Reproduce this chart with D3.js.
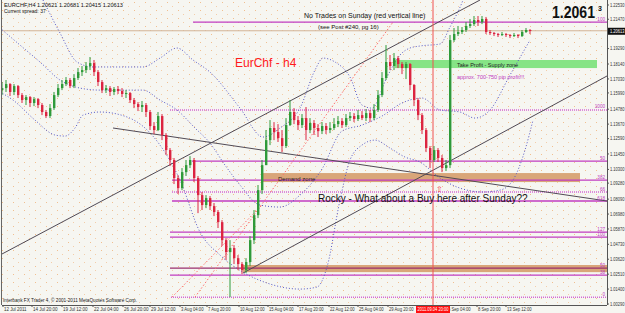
<!DOCTYPE html>
<html>
<head>
<meta charset="utf-8">
<script src="https://cdn.jsdelivr.net/npm/d3@7"></script>
<style>
html, body { margin: 0; padding: 0; background: #fff; }
svg { display: block; font-family: "Liberation Sans", Arial, sans-serif; }
</style>
</head>
<body>
<div id="chart"></div>
<script>
const width = 625, height = 313, plotRight = 607, plotBottom = 305;

// EURCHF H4 candles (one entry per bar, open = previous close)
const firstOpen = 1.1620;
const closes = [1.1635,1.1665,1.1606,1.1650,1.1583,1.1546,1.1568,1.1524,1.1553,1.1509,
  1.1457,1.1427,1.1486,1.1583,1.1635,1.1665,1.1695,1.1650,1.1710,1.1754,
  1.1769,1.1799,1.1821,1.1754,1.1680,1.1620,1.1635,1.1606,1.1628,1.1613,
  1.1591,1.1598,1.1546,1.1516,1.1494,1.1509,1.1457,1.1353,1.1323,1.1427,
  1.1286,1.1174,1.1100,1.0966,1.0891,1.1010,1.1062,1.1100,1.0966,1.0839,
  1.0765,1.0817,1.0757,1.0713,1.0638,1.0504,1.0415,1.0445,1.0370,1.0326,
  1.0281,1.0341,1.0504,1.0690,1.0876,1.1062,1.1248,1.1338,1.1308,1.1263,
  1.1204,1.1360,1.1457,1.1397,1.1360,1.1412,1.1323,1.1375,1.1338,1.1315,
  1.1353,1.1323,1.1338,1.1367,1.1390,1.1360,1.1412,1.1427,1.1405,1.1434,
  1.1412,1.1449,1.1412,1.1472,1.1583,1.1710,1.1829,1.1799,1.1858,1.1814,
  1.1784,1.1814,1.1658,1.1546,1.1434,1.1323,1.1189,1.1100,1.1174,1.1115,
  1.1040,1.1062,1.1992,1.2037,1.2052,1.2067,1.2097,1.2111,1.2141,1.2126,
  1.2149,1.2052,1.2045,1.2037,1.2030,1.2037,1.2030,1.2022,1.2030,1.2022,
  1.2052,1.2067,1.2061];
const highs = [1.1680,1.1695,1.1672,1.1665,1.1658,1.1598,1.1583,1.1576,1.1568,1.1561,
  1.1524,1.1472,1.1516,1.1606,1.1665,1.1695,1.1717,1.1710,1.1739,1.1784,
  1.1799,1.1829,1.1866,1.1844,1.1769,1.1695,1.1658,1.1650,1.1643,1.1650,
  1.1635,1.1620,1.1606,1.1561,1.1531,1.1539,1.1524,1.1472,1.1382,1.1457,
  1.1442,1.1300,1.1189,1.1115,1.0988,1.1040,1.1100,1.1129,1.1115,1.0981,
  1.0862,1.0839,1.0832,1.0780,1.0728,1.0653,1.0519,1.0504,1.0467,1.0393,
  1.0341,1.0370,1.0534,1.0728,1.0914,1.1100,1.1323,1.1397,1.1382,1.1367,
  1.1323,1.1412,1.1546,1.1486,1.1427,1.1442,1.1494,1.1412,1.1397,1.1367,
  1.1382,1.1375,1.1382,1.1412,1.1427,1.1412,1.1442,1.1457,1.1449,1.1472,
  1.1464,1.1479,1.1472,1.1516,1.1620,1.1754,1.1955,1.1881,1.1896,1.1873,
  1.1829,1.1829,1.1821,1.1665,1.1561,1.1449,1.1338,1.1204,1.1204,1.1189,
  1.1137,1.1100,1.2030,1.2082,1.2097,1.2089,1.2126,1.2149,1.2171,1.2171,
  1.2171,1.2164,1.2067,1.2052,1.2045,1.2052,1.2045,1.2037,1.2045,1.2037,
  1.2067,1.2082,1.2074];
const lows = [1.1583,1.1606,1.1576,1.1583,1.1561,1.1524,1.1509,1.1494,1.1501,1.1486,
  1.1434,1.1412,1.1412,1.1472,1.1568,1.1620,1.1650,1.1635,1.1635,1.1695,
  1.1725,1.1747,1.1769,1.1725,1.1650,1.1598,1.1598,1.1576,1.1583,1.1591,
  1.1568,1.1561,1.1524,1.1486,1.1464,1.1457,1.1420,1.1323,1.1293,1.1315,
  1.1248,1.1137,1.1055,1.0921,1.0847,1.0876,1.0981,1.1040,1.0936,1.0705,
  1.0728,1.0742,1.0728,1.0683,1.0594,1.0460,1.0356,1.0080,1.0326,1.0281,
  1.0251,1.0259,1.0311,1.0475,1.0668,1.0847,1.1144,1.1211,1.1248,1.1234,
  1.1159,1.1189,1.1353,1.1367,1.1323,1.1338,1.1248,1.1300,1.1286,1.1271,
  1.1293,1.1293,1.1300,1.1323,1.1345,1.1338,1.1345,1.1390,1.1382,1.1390,
  1.1397,1.1390,1.1382,1.1397,1.1457,1.1568,1.1695,1.1769,1.1769,1.1784,
  1.1739,1.1702,1.1620,1.1501,1.1397,1.1293,1.1159,1.1040,1.1085,1.1085,
  1.1010,1.1018,1.1040,1.1978,1.2022,1.2037,1.2052,1.2082,1.2097,1.2097,
  1.2111,1.2037,1.2030,1.2022,1.2015,1.2022,1.2015,1.2007,1.2015,1.2007,
  1.2015,1.2045,1.2037];

// Bollinger bands, [bar index, price]
const bandUpper = [[10.25,1.2290],[14.5,1.2045],[18.75,1.1829],[22.75,1.1792],[35.25,1.1792],
  [39.5,1.1858],[43.75,1.1933],[47.75,1.1844],[52,1.1754],[59.5,1.1486],[65.25,1.1271],
  [69.5,1.1338],[74.5,1.1486],[78.25,1.1769],[80.25,1.1858],[83.25,1.1829],[87,1.1717],
  [90,1.1509],[92.5,1.1486],[96.25,1.1717],[99.5,1.1881],[102,1.1933],[104.5,1.1948],
  [109.5,1.1963],[112,1.2089],[115.25,1.2290],[117,1.2439]];
const bandMiddle = [[-0.5,1.2082],[4.5,1.1955],[9.5,1.1829],[14.5,1.1695],[19.5,1.1635],
  [24.5,1.1620],[35.25,1.1620],[39.5,1.1546],[43.75,1.1472],[48.25,1.1338],[52,1.1226],
  [55.75,1.1062],[59.5,1.0914],[64.5,1.0765],[69.5,1.0750],[74.5,1.0839],[80,1.1033],
  [85,1.1315],[90,1.1360],[95,1.1427],[100,1.1524],[105,1.1561],[109.5,1.1472],
  [114.5,1.1457],[118.25,1.1412],[122,1.1472],[127,1.1732],[132,1.1992]];
const bandLower = [[-0.5,1.1606],[2.75,1.1546],[8.25,1.1397],[13.25,1.1286],[15.75,1.1278],
  [18.25,1.1338],[20.25,1.1434],[24.5,1.1457],[31.25,1.1420],[35.75,1.1338],[39.5,1.1211],
  [44.5,1.0951],[49.5,1.0564],[54.5,1.0393],[60.25,1.0266],[66.25,1.0185],[74.5,1.0140],
  [78.75,1.0155],[81.25,1.0304],[84.5,1.0802],[87,1.1100],[90,1.1211],[93.25,1.1248],
  [97,1.1189],[100.75,1.1122],[104.5,1.1085],[109.5,1.0966],[114.5,1.0891],[120.25,1.0862],
  [124.5,1.0876],[127.75,1.0951],[130.75,1.1174],[132.75,1.1397]];

// trend lines and fibo diagonals, [bar index, price]
const trendLines = [
  [[-0.5,1.0393],[119.5,1.2290]],
  [[60.25,1.0259],[151.25,1.1725]],
  [[27.75,1.1338],[151.25,1.0795]]
];
const fiboDiagonals = [
  [[48.25,1.0080],[97.75,1.2126]],
  [[42.5,1.0080],[65,1.0765]]
];

// fibonacci levels
const fibLabels = ["100","1000","50","382","66","618","127","100","50","38","0"];
const fibPrices = [1.2126,1.1472,1.1092,1.0951,1.0862,1.0795,1.0564,1.0527,1.0296,1.0244,1.0080];
const fibStart = [47.75,42,47.5,42.5,42.5,42.5,42,42,42,42,42.25];

// zones: demand (upper), demand (lower), take profit
const zoneFrom = [65, 60.25, 98.25];
const zoneTo = [144.5, 151.25, 148.75];
const zoneTop = [1.1003, 1.0319, 1.1844];
const zoneBottom = [1.0936, 1.0266, 1.1784];

// annotations
const noteText = ["No Trades on Sunday (red vertical line)", "(see Post #240, pg 16)", "EurChf - h4",
  "Take Profit - Supply zone", "approx. 700-750 pip profit!!!", "Demand zone",
  "Rocky - What about a Buy here after Sunday??", "\u21E7"];
const noteIdx = [75.5, 79, 58.25, 113.75, 113.75, 69, 79, 108.5];
const notePrice = [1.2156, 1.2074, 1.1792, 1.1795, 1.1702, 1.0947, 1.0787, 1.0860];

// axes
const priceTicks = ["1.22530","1.21470","1.19290","1.18140","1.17030","1.15990","1.14780","1.13670",
  "1.12590","1.11450","1.10300","1.09280","1.08090","1.06980","1.05870","1.04730","1.03620",
  "1.02510","1.01400","1.00290"];
const timeLabels = ["12 Jul 2011","14 Jul 20:00","19 Jul 12:00","22 Jul 04:00","26 Jul 20:00",
  "29 Jul 12:00","3 Aug 04:00","7 Aug 20:00","10 Aug 12:00","15 Aug 04:00","17 Aug 20:00",
  "22 Aug 12:00","25 Aug 04:00","29 Aug 20:00","6 Sep 04:00","8 Sep 20:00","13 Sep 12:00"];
const timeIdx = [0.25,7.5,15,22.75,30.25,37,44.5,51.25,59.25,66.5,74,81.75,89,96.5,111.25,118.75,126];
const sundayIdx = 107.75, sundayLabel = "2011.09.04 20:00";
const lastPrice = 1.20613;

const x = d3.scaleLinear().domain([0, 132]).range([2, 530]);
const y = d3.scaleLinear().domain([1.2253, 1.0029]).range([5, 304]);

const svg = d3.select("#chart").append("svg")
  .attr("width", width).attr("height", height);

const defs = svg.append("defs");
const pat = defs.append("pattern").attr("id", "dots")
  .attr("width", 11).attr("height", 8).attr("patternUnits", "userSpaceOnUse");
pat.append("rect").attr("x", 2).attr("y", 2).attr("width", 1).attr("height", 1).attr("fill", "#f1bf8f");
pat.append("rect").attr("x", 7).attr("y", 6).attr("width", 1).attr("height", 1).attr("fill", "#f3cda8");
defs.append("clipPath").attr("id", "plot")
  .append("rect").attr("x", 2).attr("y", 0).attr("width", plotRight - 2).attr("height", plotBottom);

svg.append("rect").attr("width", width).attr("height", height).attr("fill", "#f6f6f1");
svg.append("rect").attr("x", 2).attr("width", plotRight - 2).attr("height", plotBottom).attr("fill", "url(#dots)");

const plot = svg.append("g").attr("clip-path", "url(#plot)");
const line = d3.line().x(d => x(d[0])).y(d => y(d[1]));

// zones
const zoneFill = ["#d9a679", "#d9a679", "#86e486"];
plot.selectAll("rect.zone").data(zoneFrom).enter().append("rect").attr("class", "zone")
  .attr("x", (d, i) => x(d))
  .attr("y", (d, i) => y(zoneTop[i]))
  .attr("width", (d, i) => x(zoneTo[i]) - x(d))
  .attr("height", (d, i) => y(zoneBottom[i]) - y(zoneTop[i]))
  .attr("fill", (d, i) => zoneFill[i]);

// current price line
plot.append("line").attr("x1", 2).attr("x2", plotRight)
  .attr("y1", y(lastPrice)).attr("y2", y(lastPrice))
  .attr("stroke", "#d2b396").attr("stroke-width", 1);

// fibo levels
const dottedFib = [1, 4, 10];
plot.selectAll("line.fib").data(fibPrices).enter().append("line").attr("class", "fib")
  .attr("x1", (d, i) => x(fibStart[i])).attr("x2", plotRight)
  .attr("y1", d => y(d)).attr("y2", d => y(d))
  .attr("stroke", (d, i) => i === 8 ? "#9a2f6e" : (dottedFib.includes(i) ? "#d46ad4" : "#c03cc0"))
  .attr("stroke-width", (d, i) => dottedFib.includes(i) ? 1.5 : 1.3)
  .attr("stroke-dasharray", (d, i) => dottedFib.includes(i) ? "1,1" : null);
svg.selectAll("text.fib").data(fibLabels).enter().append("text").attr("class", "fib")
  .attr("x", plotRight - 2).attr("y", (d, i) => y(fibPrices[i]) - 1.5)
  .attr("text-anchor", "end").attr("font-size", 4.6).attr("fill", "#c03cc0").text(d => d);

// fibo diagonals
plot.selectAll("path.fdiag").data(fiboDiagonals).enter().append("path").attr("class", "fdiag")
  .attr("d", line).attr("fill", "none").attr("stroke", "#ff6f6f")
  .attr("stroke-width", 1).attr("stroke-dasharray", "1.5,2");

// bands
plot.selectAll("path.band").data([bandUpper, bandMiddle, bandLower]).enter().append("path")
  .attr("class", "band")
  .attr("d", d3.line().x(d => x(d[0])).y(d => y(d[1])).curve(d3.curveMonotoneX))
  .attr("fill", "none").attr("stroke", "#5656c4").attr("stroke-width", 1)
  .attr("stroke-dasharray", "1,2");

// trend lines
plot.selectAll("path.trend").data(trendLines).enter().append("path").attr("class", "trend")
  .attr("d", line).attr("fill", "none").attr("stroke", "#514a55").attr("stroke-width", 1);

// sunday line
plot.append("line").attr("x1", x(sundayIdx)).attr("x2", x(sundayIdx))
  .attr("y1", 0).attr("y2", plotBottom).attr("stroke", "#f05050").attr("stroke-width", 1);

// candles
const bars = closes.map((c, i) => ({ i, o: i ? closes[i - 1] : firstOpen, c, h: highs[i], l: lows[i] }));
const bull = "#2f9a3a", bear = "#dc2440";
const candle = plot.selectAll("g.bar").data(bars).enter().append("g").attr("class", "bar");
candle.append("line")
  .attr("x1", d => x(d.i)).attr("x2", d => x(d.i))
  .attr("y1", d => y(Math.max(d.h, d.o, d.c))).attr("y2", d => y(Math.min(d.l, d.o, d.c)))
  .attr("stroke", d => d.c >= d.o ? bull : bear).attr("stroke-width", 1);
candle.append("rect")
  .attr("x", d => x(d.i) - 1).attr("width", 2.4)
  .attr("y", d => y(Math.max(d.o, d.c)))
  .attr("height", d => Math.max(1, Math.abs(y(d.o) - y(d.c))))
  .attr("fill", d => d.c >= d.o ? bull : bear);

// annotations
const noteSize = [7, 6, 12, 5.5, 5.5, 6, 10, 8];
const noteColor = ["#111", "#111", "#ff1a1a", "#222", "#c03cc0", "#222", "#111", "#f04040"];
svg.selectAll("text.note").data(noteText).enter().append("text").attr("class", "note")
  .attr("x", (d, i) => x(noteIdx[i])).attr("y", (d, i) => y(notePrice[i]))
  .attr("font-size", (d, i) => noteSize[i]).attr("fill", (d, i) => noteColor[i])
  .text(d => d);

// frame
svg.append("line").attr("x1", plotRight + 0.5).attr("x2", plotRight + 0.5)
  .attr("y1", 0).attr("y2", plotBottom).attr("stroke", "#555");
svg.append("line").attr("x1", 2).attr("x2", plotRight)
  .attr("y1", plotBottom + 0.5).attr("y2", plotBottom + 0.5).attr("stroke", "#555");
svg.append("line").attr("x1", 1.5).attr("x2", 1.5)
  .attr("y1", 0).attr("y2", plotBottom).attr("stroke", "#666");

// price axis
const pAxis = svg.append("g");
pAxis.selectAll("line").data(priceTicks).enter().append("line")
  .attr("x1", plotRight).attr("x2", plotRight + 2)
  .attr("y1", d => y(+d)).attr("y2", d => y(+d)).attr("stroke", "#555");
pAxis.selectAll("text").data(priceTicks).enter().append("text")
  .attr("x", plotRight + 3).attr("y", d => y(+d) + 1.6)
  .attr("font-size", 4.5).attr("textLength", 14.5).attr("lengthAdjust", "spacingAndGlyphs")
  .attr("fill", "#333").text(d => d);
pAxis.append("rect").attr("x", plotRight + 1).attr("y", y(lastPrice) - 3)
  .attr("width", width - plotRight).attr("height", 7).attr("fill", "#111");
pAxis.append("text").attr("x", plotRight + 3).attr("y", y(lastPrice) + 1.9)
  .attr("font-size", 4.5).attr("textLength", 14.5).attr("lengthAdjust", "spacingAndGlyphs")
  .attr("fill", "#fff").text(lastPrice.toFixed(5));

// time axis
const tAxis = svg.append("g");
tAxis.selectAll("line").data(timeIdx).enter().append("line")
  .attr("x1", d => x(d)).attr("x2", d => x(d))
  .attr("y1", plotBottom).attr("y2", plotBottom + 2).attr("stroke", "#555");
tAxis.selectAll("text").data(timeLabels).enter().append("text")
  .attr("x", (d, i) => x(timeIdx[i]) + 1).attr("y", 311)
  .attr("font-size", 4.5).attr("textLength", d => d.length * 2.05).attr("lengthAdjust", "spacingAndGlyphs")
  .attr("fill", "#333").text(d => d);
tAxis.append("rect").attr("x", x(sundayIdx) - 17).attr("y", plotBottom + 1)
  .attr("width", 34).attr("height", 8).attr("fill", "#ff1010");
tAxis.append("text").attr("x", x(sundayIdx) - 15.5).attr("y", 311)
  .attr("font-size", 4.5).attr("textLength", 31).attr("lengthAdjust", "spacingAndGlyphs")
  .attr("fill", "#fff").text(sundayLabel);

// chart header / footer
svg.append("text").attr("x", 4).attr("y", 6.5).attr("font-size", 5).attr("textLength", 119)
  .attr("lengthAdjust", "spacingAndGlyphs").attr("fill", "#111")
  .text("EURCHF,H4  1.20621 1.20681 1.20415 1.20613");
svg.append("text").attr("x", 4).attr("y", 12.5).attr("font-size", 5).attr("fill", "#111")
  .text("Current spread: 37");
svg.append("text").attr("x", 3).attr("y", 302).attr("font-size", 4.6).attr("textLength", 134)
  .attr("lengthAdjust", "spacingAndGlyphs").attr("fill", "#222")
  .text("Interbank FX Trader 4, \u00A9 2001-2011 MetaQuotes Software Corp.");
svg.append("text").attr("x", 552).attr("y", 17.5).attr("font-size", 16).attr("font-weight", "bold")
  .attr("textLength", 43).attr("lengthAdjust", "spacingAndGlyphs")
  .attr("fill", "#111").text(lastPrice.toFixed(5).slice(0, 6));
svg.append("text").attr("x", 598).attr("y", 10.5).attr("font-size", 7).attr("font-weight", "bold")
  .attr("fill", "#111").text(lastPrice.toFixed(5).slice(6));
</script>
</body>
</html>
